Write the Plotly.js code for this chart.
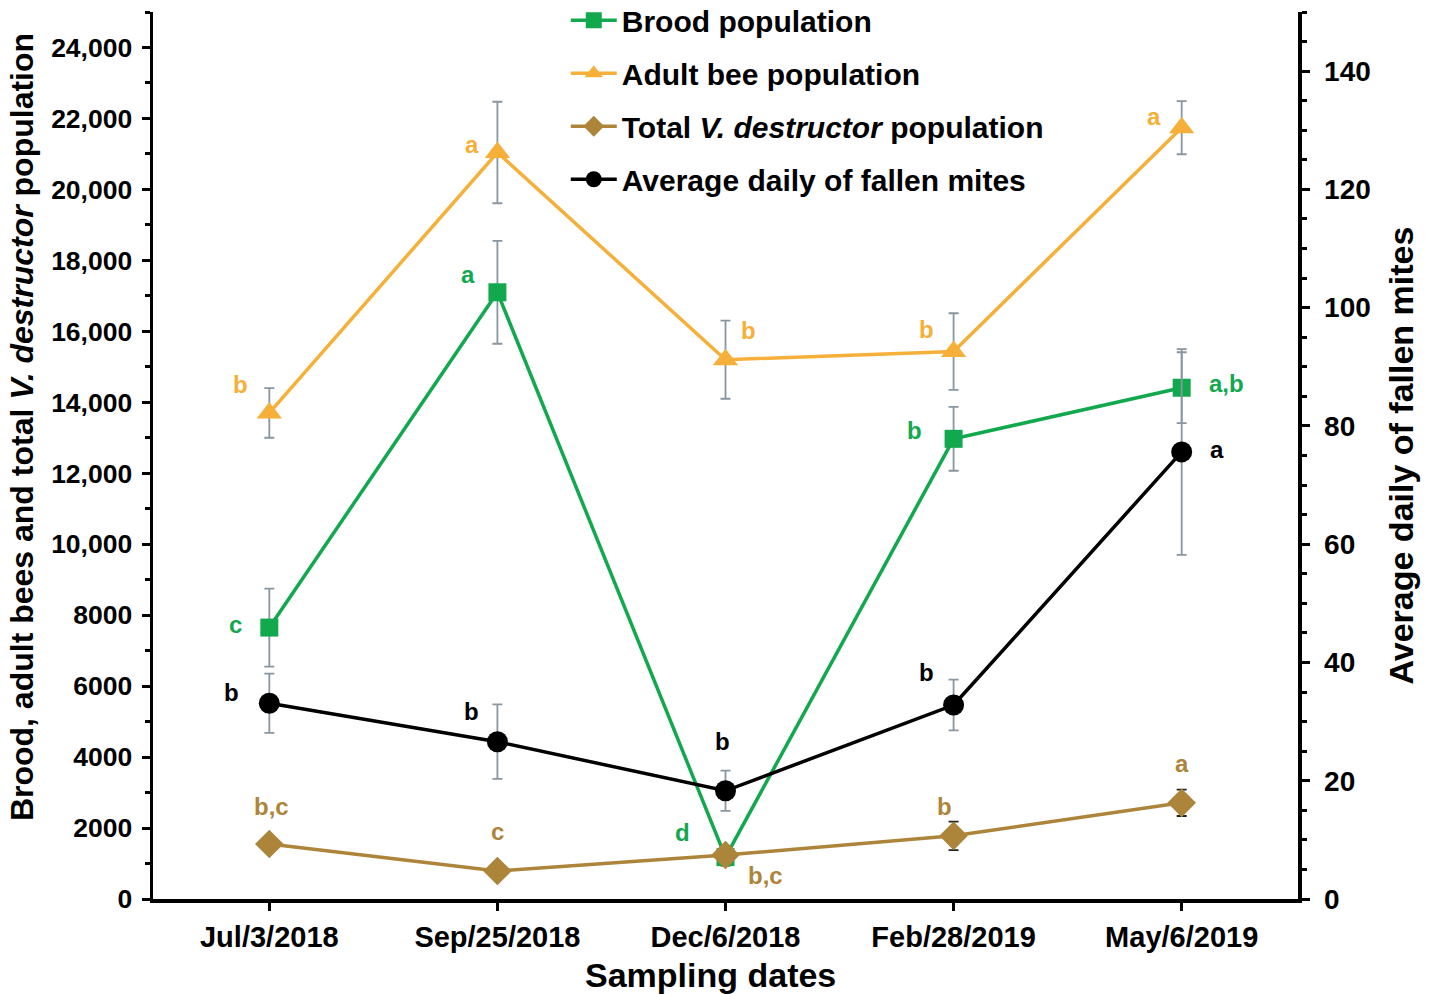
<!DOCTYPE html>
<html>
<head>
<meta charset="utf-8">
<script src="https://cdn.plot.ly/plotly-3.0.1.min.js"></script>
<style>html,body{margin:0;padding:0;background:#fff;}#chart{width:1430px;height:994px;}</style>
</head>
<body>
<div id="chart"></div>
<script>
// ---- data ----
const dates = ["Jul/3/2018", "Sep/25/2018", "Dec/6/2018", "Feb/28/2019", "May/6/2019"];
const broodValues = [7650, 17100, 1180, 12970, 14410];
const broodErr = [1100, 1450, 250, 900, 1000];
const broodLetters = ["c", "a", "d", "b", "a,b"];
const adultValues = [13700, 21040, 15200, 15430, 21740];
const adultErr = [700, 1430, 1100, 1080, 750];
const adultLetters = ["b", "a", "b", "b", "a"];
const varroaValues = [1550, 790, 1240, 1780, 2710];
const varroaErr = [180, 120, 150, 400, 370];
const varroaLetters = ["b,c", "c", "b,c", "b", "a"];
const mitesValues = [33.1, 26.6, 18.3, 32.8, 75.6];
const mitesErr = [5.0, 6.3, 3.4, 4.3, 17.4];
const mitesLetters = ["b", "b", "b", "b", "a"];
const leftTickVals = [0, 2000, 4000, 6000, 8000, 10000, 12000, 14000, 16000, 18000, 20000, 22000, 24000];
const leftTickText = ["0", "2000", "4000", "6000", "8000", "10,000", "12,000", "14,000", "16,000", "18,000", "20,000", "22,000", "24,000"];
const rightTickVals = [0, 20, 40, 60, 80, 100, 120, 140];
const leftTitle = "Brood, adult bees and total <i>V. destructor</i> population";
const rightTitle = "Average daily of fallen mites";
const xTitle = "Sampling dates";

// ---- styles ----
const GREEN = "#12a84e", ORANGE = "#f6b03a", BROWN = "#ad853a", BLACK = "#000000", ERR = "#8797a3";
const FONT = "Liberation Sans, Arial, sans-serif";
const idx = dates.map((d, i) => i);

function errObj(arr) {
  return {type: "data", array: arr, visible: true, color: ERR, thickness: 1.8, width: 5};
}

const traces = [
  {x: idx, y: broodValues, name: "Brood population", type: "scatter", mode: "lines+markers",
   line: {color: GREEN, width: 3.5}, marker: {symbol: "square", size: 18, color: GREEN},
   error_y: errObj(broodErr), legendgroup: "g1"},
  {x: idx, y: adultValues, name: "Adult bee population", type: "scatter", mode: "lines+markers",
   line: {color: ORANGE, width: 3.5}, marker: {symbol: "triangle-up", size: 22, color: ORANGE},
   error_y: errObj(adultErr), legendgroup: "g2"},
  {x: idx, y: varroaValues, name: "Total <i>V. destructor</i> population", type: "scatter", mode: "lines+markers",
   line: {color: BROWN, width: 3.5}, marker: {symbol: "diamond", size: 22, color: BROWN},
   error_y: Object.assign(errObj(varroaErr), {color: "#222"}), legendgroup: "g3"},
  {x: idx, y: mitesValues, name: "Average daily of fallen mites", type: "scatter", mode: "lines+markers",
   line: {color: BLACK, width: 3.5}, marker: {symbol: "circle", size: 21, color: BLACK},
   error_y: errObj(mitesErr), yaxis: "y2", legendgroup: "g4"}
];

// letter annotations (offsets in px from each point)
const annotations = [];
const broodOff = [[-34, 3], [-29, 18], [-43, 25], [-39, 8], [45, 4]];
const adultOff = [[-29, 28], [-25, 8], [23, 29], [-27, 22], [-28, 11]];
const varroaOff = [[2, 38], [0, 39], [40, -20], [-9, 29], [0, 39]];
const mitesOff = [[-38, 11], [-26, 30], [-3, 49], [-27, 33], [35, 2]];
function addLetters(vals, letters, offs, color, yref) {
  vals.forEach((v, i) => {
    annotations.push({x: i, y: v, xref: "x", yref: yref, text: "<b>" + letters[i] + "</b>",
      showarrow: false, xshift: offs[i][0], yshift: offs[i][1],
      font: {family: FONT, size: 24, color: color}});
  });
}
addLetters(broodValues, broodLetters, broodOff, GREEN, "y");
addLetters(adultValues, adultLetters, adultOff, ORANGE, "y");
addLetters(varroaValues, varroaLetters, varroaOff, BROWN, "y");
addLetters(mitesValues, mitesLetters, mitesOff, BLACK, "y2");

// axis titles as annotations for exact placement
annotations.push({xref: "paper", yref: "paper", x: 0, y: 0.532, xshift: -131, textangle: -90,
  xanchor: "center", yanchor: "middle", showarrow: false, text: "<b>" + leftTitle + "</b>",
  font: {family: FONT, size: 32, color: "#000"}});
annotations.push({xref: "paper", yref: "paper", x: 1, y: 0.5, xshift: 102, textangle: -90,
  xanchor: "center", yanchor: "middle", showarrow: false, text: "<b>" + rightTitle + "</b>",
  font: {family: FONT, size: 34, color: "#000"}});
annotations.push({xref: "paper", yref: "paper", x: 0.5, y: 0, xshift: -15, yshift: -76,
  xanchor: "center", yanchor: "middle", showarrow: false, text: "<b>" + xTitle + "</b>",
  font: {family: FONT, size: 34, color: "#000"}});

const layout = {
  width: 1430, height: 994,
  margin: {l: 153, r: 132, t: 12, b: 95, autoexpand: false},
  paper_bgcolor: "#fff", plot_bgcolor: "#fff",
  showlegend: true,
  legend: {x: 0.3605, y: 1.02, xanchor: "left", yanchor: "top", bgcolor: "rgba(0,0,0,0)",
           traceorder: "grouped", tracegroupgap: 11, itemwidth: 46,
           font: {family: FONT, size: 30, color: "#000", weight: 700}},
  font: {family: FONT, color: "#000"},
  xaxis: {range: [-0.51, 4.51], tickmode: "array", tickvals: idx, ticktext: dates,
          showline: true, linecolor: "#000", linewidth: 3.5, ticks: "outside", ticklen: 8, tickwidth: 3,
          tickcolor: "#000", showgrid: false, zeroline: false, ticklabelstandoff: 2,
          tickfont: {family: FONT, size: 29, color: "#000", weight: 700}},
  yaxis: {range: [0, 25000], tickmode: "array", tickvals: leftTickVals, ticktext: leftTickText,
          showline: true, linecolor: "#000", linewidth: 3.5, ticks: "outside", ticklen: 8, tickwidth: 3,
          tickcolor: "#000", showgrid: false, zeroline: false, ticklabelstandoff: 4,
          minor: {dtick: 1000, ticks: "outside", ticklen: 5, tickwidth: 3, tickcolor: "#000"},
          tickfont: {family: FONT, size: 26.5, color: "#000", weight: 700}},
  yaxis2: {range: [0, 150], overlaying: "y", side: "right", tickmode: "array", tickvals: rightTickVals,
           showline: true, linecolor: "#000", linewidth: 3.5, ticks: "outside", ticklen: 8, tickwidth: 3,
           tickcolor: "#000", showgrid: false, zeroline: false, ticklabelstandoff: 9,
           minor: {dtick: 5, ticks: "outside", ticklen: 5, tickwidth: 3, tickcolor: "#000"},
           tickfont: {family: FONT, size: 28, color: "#000", weight: 700}},
  annotations: annotations
};

Plotly.newPlot("chart", traces, layout, {displayModeBar: false, staticPlot: true});
</script>
</body>
</html>
